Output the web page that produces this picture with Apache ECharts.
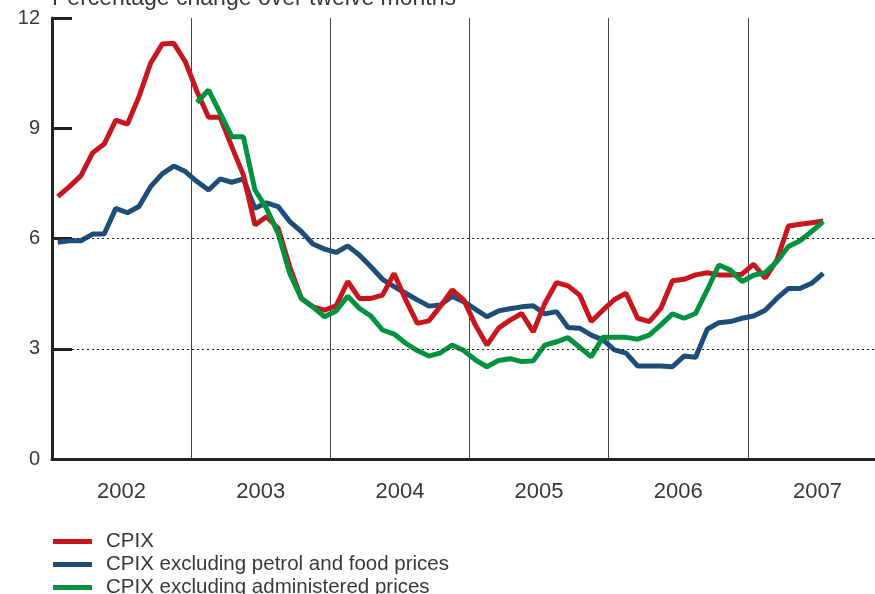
<!DOCTYPE html>
<html>
<head>
<meta charset="utf-8">
<script src="https://cdn.jsdelivr.net/npm/echarts@6/dist/echarts.min.js"></script>
<style>
  html, body { margin: 0; padding: 0; background: #fff; overflow: hidden; }
  /* a bit wider than the window: the plot runs past the right edge, as in the original */
  #chart { width: 890px; height: 594px; }
</style>
</head>
<body>
<div id="chart"></div>
<script>
// years on the axis, one category per year
const years = ["2002", "2003", "2004", "2005", "2006", "2007"];
// monthly points, Jan 2002 onwards
const months = [];
years.forEach(function (y) {
  for (let m = 1; m <= 12; m++) months.push(y + "-" + m);
});

const yTicks = [0, 3, 6, 9, 12];
const dottedLevels = [3, 6];

const cpix = [
  7.14, 7.41, 7.71, 8.33, 8.57, 9.22, 9.11, 9.86, 10.77, 11.29, 11.31, 10.81,
  10.0, 9.30, 9.30, 8.50, 7.73, 6.37, 6.59, 6.28, 5.23, 4.37, 4.14, 4.05,
  4.17, 4.83, 4.37, 4.37, 4.46, 5.05, 4.33, 3.69, 3.76, 4.16, 4.60, 4.33,
  3.65, 3.10, 3.56, 3.78, 3.96, 3.46, 4.24, 4.80, 4.71, 4.46, 3.74, 4.05,
  4.34, 4.51, 3.83, 3.74, 4.10, 4.85, 4.89, 5.01, 5.07, 5.01, 5.01, 5.03,
  5.30, 4.92, 5.41, 6.34, 6.39, 6.43, 6.48
];
const cpixExPetrolFood = [
  5.90, 5.94, 5.94, 6.12, 6.12, 6.82, 6.70, 6.87, 7.41, 7.76, 7.97, 7.82,
  7.55, 7.32, 7.62, 7.53, 7.62, 6.82, 6.97, 6.87, 6.46, 6.19, 5.85, 5.71,
  5.62, 5.80, 5.55, 5.23, 4.89, 4.69, 4.51, 4.33, 4.16, 4.19, 4.43, 4.28,
  4.08, 3.87, 4.03, 4.09, 4.14, 4.17, 3.95, 4.01, 3.58, 3.56, 3.37, 3.24,
  2.97, 2.88, 2.53, 2.53, 2.53, 2.51, 2.80, 2.77, 3.53, 3.71, 3.74, 3.83,
  3.89, 4.05, 4.37, 4.64, 4.64, 4.78, 5.05
];
const cpixExAdministered = [
  null, null, null, null, null, null, null, null, null, null, null, null,
  9.70, 10.04, 9.41, 8.77, 8.77, 7.32, 6.82, 6.14, 5.05, 4.37, 4.14, 3.87,
  4.03, 4.43, 4.10, 3.89, 3.51, 3.40, 3.15, 2.95, 2.80, 2.89, 3.10, 2.95,
  2.70, 2.51, 2.68, 2.73, 2.65, 2.67, 3.10, 3.19, 3.30, 3.04, 2.78, 3.31,
  3.31, 3.31, 3.26, 3.37, 3.65, 3.95, 3.83, 3.96, 4.60, 5.28, 5.14, 4.83,
  5.00, 5.07, 5.37, 5.78, 5.94, 6.19, 6.46
];

const FONT = "Liberation Sans";
const TEXT = "#383838";
const chart = echarts.init(document.getElementById("chart"));

chart.setOption({
  animation: false,
  textStyle: { fontFamily: FONT },
  title: {
    text: "Percentage change over twelve months",
    left: 47,
    top: -18,
    textStyle: { fontSize: 23, fontWeight: "normal", color: TEXT, fontFamily: FONT }
  },
  legend: {
    orient: "vertical",
    left: 53,
    top: 531,
    height: 120,
    padding: 0,
    itemGap: 2,
    itemWidth: 39,
    itemHeight: 5,
    icon: "rect",
    textStyle: { fontSize: 20.5, color: TEXT, padding: [0, 0, 0, 9] },
    data: ["CPIX", "CPIX excluding petrol and food prices", "CPIX excluding administered prices"]
  },
  grid: { left: 52, top: 18, right: 3, bottom: 135 },
  xAxis: [
    {
      type: "category",
      data: months,
      position: "top",
      boundaryGap: true,
      axisLine: { show: true, lineStyle: { color: "#999", width: 1 } },
      axisTick: { show: false },
      axisLabel: { show: false },
      splitLine: { show: false }
    },
    {
      type: "category",
      data: years,
      position: "bottom",
      boundaryGap: true,
      axisLine: { show: true, lineStyle: { color: "#222", width: 3 } },
      axisTick: { show: false },
      axisLabel: { fontSize: 22, color: TEXT, margin: 22 },
      splitLine: { show: true, lineStyle: { color: "#444", width: 1 } }
    }
  ],
  yAxis: {
    type: "value",
    min: yTicks[0],
    max: yTicks[yTicks.length - 1],
    interval: 3,
    axisLine: { show: true, lineStyle: { color: "#222", width: 3 } },
    axisTick: { show: true, inside: true, length: 20, lineStyle: { color: "#222", width: 3 } },
    axisLabel: { fontSize: 20, color: TEXT, margin: 12 },
    splitLine: { show: false }
  },
  series: [
    {
      name: "CPIX",
      type: "line",
      xAxisIndex: 0,
      data: cpix,
      showSymbol: false,
      z: 3,
      color: "#c8161e",
      lineStyle: { width: 5, color: "#c8161e" },
      markLine: {
        silent: true,
        symbol: "none",
        label: { show: false },
        lineStyle: { type: [2, 3], color: "#222", width: 1 },
        data: dottedLevels.map(function (v) { return { yAxis: v }; })
      }
    },
    {
      name: "CPIX excluding petrol and food prices",
      type: "line",
      xAxisIndex: 0,
      data: cpixExPetrolFood,
      showSymbol: false,
      z: 2,
      color: "#1d4e79",
      lineStyle: { width: 5, color: "#1d4e79" }
    },
    {
      name: "CPIX excluding administered prices",
      type: "line",
      xAxisIndex: 0,
      data: cpixExAdministered,
      showSymbol: false,
      z: 4,
      color: "#00923f",
      lineStyle: { width: 5, color: "#00923f" }
    }
  ]
});
</script>
</body>
</html>
